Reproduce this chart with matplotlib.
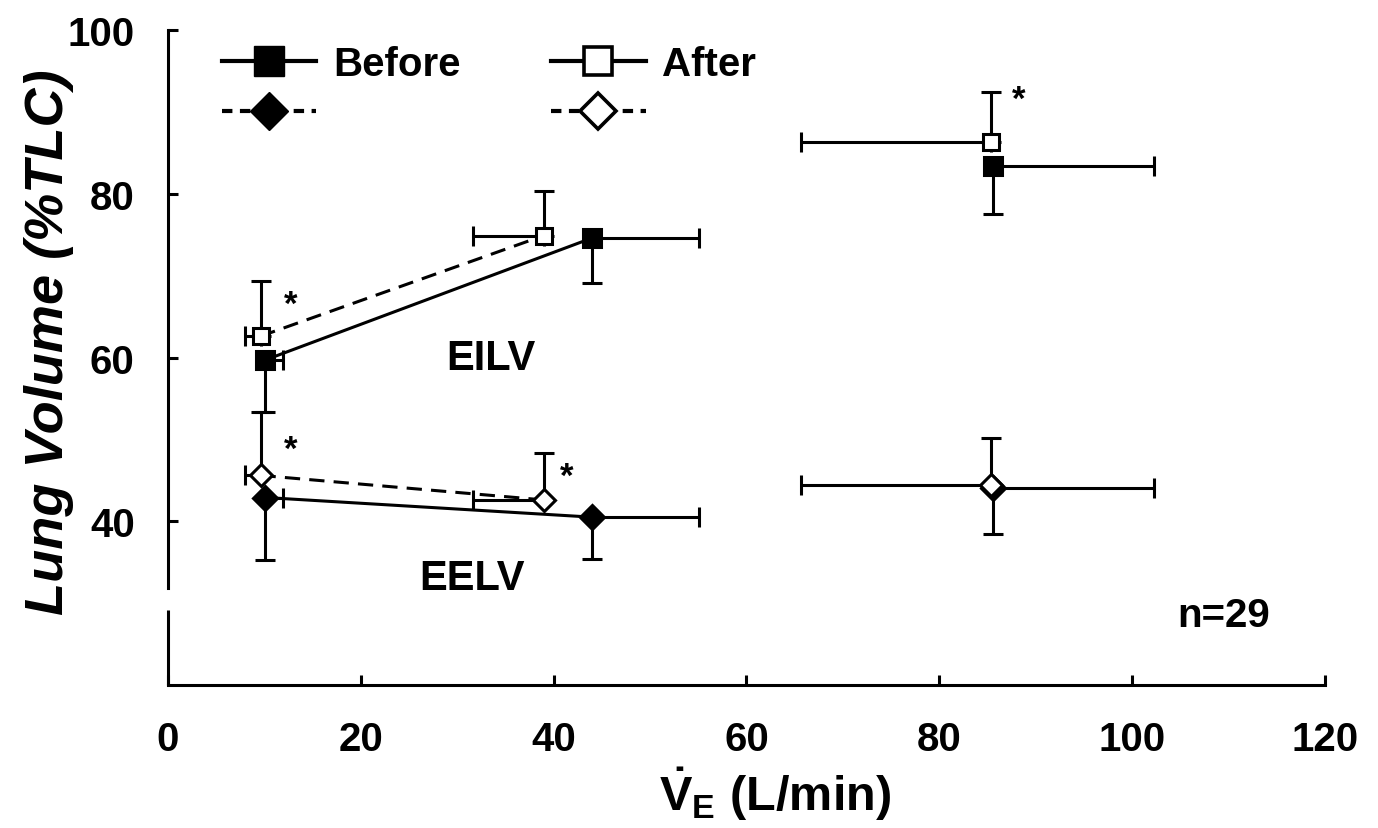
import matplotlib
matplotlib.use("Agg")
import matplotlib.pyplot as plt
from matplotlib.lines import Line2D
import numpy as np

plt.rcParams['font.family'] = ['Liberation Sans', 'DejaVu Sans']
plt.rcParams['font.weight'] = 'bold'
plt.rcParams['mathtext.fontset'] = 'custom'
plt.rcParams['mathtext.rm'] = 'Liberation Sans:bold'
plt.rcParams['mathtext.bf'] = 'Liberation Sans:bold'
plt.rcParams['mathtext.it'] = 'Liberation Sans:bold:italic'

# minute ventilation (L/min): rest, submax, peak
ve_before = np.array([10.1, 44.0, 85.6])
ve_before_sd = np.array([1.8, 11.1, 16.7])
ve_after = np.array([9.6, 39.0, 85.4])
ve_after_sd = np.array([1.6, 7.4, 19.7])

# end-inspiratory lung volume (%TLC)
eilv_before = np.array([59.7, 74.6, 83.4])
eilv_before_sd = np.array([6.4, 5.5, 5.9])
eilv_after = np.array([62.6, 74.9, 86.3])
eilv_after_sd = np.array([6.7, 5.4, 6.1])

# end-expiratory lung volume (%TLC)
eelv_before = np.array([42.9, 40.5, 44.1])
eelv_before_sd = np.array([7.6, 5.1, 5.7])
eelv_after = np.array([45.6, 42.6, 44.4])
eelv_after_sd = np.array([7.7, 5.7, 5.8])

zero = np.zeros(3)

fig = plt.figure(figsize=(13.78, 8.29), dpi=100)
ax = fig.add_axes([0.1219, 0.1725, 0.8396, 0.7901])

lw = 2.2
eb = dict(ecolor='k', elinewidth=lw, capsize=7, capthick=lw, linestyle='none', zorder=3)

# connecting lines (rest -> submax only)
ax.plot(ve_before[:2], eilv_before[:2], '-', color='k', lw=lw, zorder=2)
ax.plot(ve_after[:2], eilv_after[:2], '--', color='k', lw=lw, dashes=(5, 3), zorder=2)
ax.plot(ve_before[:2], eelv_before[:2], '-', color='k', lw=lw, zorder=2)
ax.plot(ve_after[:2], eelv_after[:2], '--', color='k', lw=lw, dashes=(5, 3), zorder=2)

# before: error down in y, right in x
ax.errorbar(ve_before, eilv_before, yerr=[eilv_before_sd, zero], xerr=[zero, ve_before_sd],
            marker='s', ms=13, mfc='k', mec='k', mew=lw, **eb)
ax.errorbar(ve_before, eelv_before, yerr=[eelv_before_sd, zero], xerr=[zero, ve_before_sd],
            marker='D', ms=12, mfc='k', mec='k', mew=lw, **eb)
# after: error up in y, left in x
ax.errorbar(ve_after, eilv_after, yerr=[zero, eilv_after_sd], xerr=[ve_after_sd, zero],
            marker='s', ms=12, mfc='w', mec='k', mew=lw, **eb)
ax.errorbar(ve_after, eelv_after, yerr=[zero, eelv_after_sd], xerr=[ve_after_sd, zero],
            marker='D', ms=11, mfc='w', mec='k', mew=lw, **eb)

ax.set_xlim(0, 120)
ax.set_ylim(20, 100)
ax.set_xticks([0, 20, 40, 60, 80, 100, 120])
ax.set_yticks([40, 60, 80, 100])
ax.tick_params(direction='in', length=7, width=lw, labelsize=29, color='k')
ax.tick_params(axis='y', pad=24)
ax.tick_params(axis='x', pad=25)
for lab in ax.get_xticklabels() + ax.get_yticklabels():
    lab.set_fontweight('bold')

ax.spines['top'].set_visible(False)
ax.spines['right'].set_visible(False)
ax.spines['bottom'].set_linewidth(lw)
ax.spines['left'].set_linewidth(lw)
ax.spines['left'].set_bounds(31.8, 100)
# lower piece of broken y axis
ax.plot([0, 0], [20, 29.1], color='k', lw=lw, clip_on=False, solid_capstyle='butt', zorder=4)

ax.set_ylabel('Lung Volume (%TLC)', fontsize=39, fontstyle='italic', fontweight='bold',
              va='center')
ax.yaxis.set_label_coords(-0.103, 0.525)
ax.set_xlabel(r'$\dot{\mathrm{V}}_{\mathrm{E}}$ (L/min)', fontsize=35, fontweight='bold',
              va='top')
ax.xaxis.set_label_coords(0.525, -0.121)

ax.text(33.5, 60.0, 'EILV', fontsize=30, ha='center', va='center')
ax.text(31.5, 33.1, 'EELV', fontsize=30, ha='center', va='center')
ax.text(109.5, 28.6, 'n=29', fontsize=29, ha='center', va='center')

stars = [(12.7, 66.5), (12.7, 48.8), (41.4, 45.5), (88.2, 91.5)]
for sx, sy in stars:
    ax.text(sx, sy, '*', fontsize=25, ha='center', va='center')

handles = [
    Line2D([], [], color='k', lw=3, marker='s', ms=21, mfc='k', mec='k'),
    Line2D([], [], color='k', lw=3, ls='--', dashes=(2.5, 1.8), marker='D', ms=19, mfc='k', mec='k'),
    Line2D([], [], color='k', lw=3, marker='s', ms=20, mfc='w', mec='k', mew=2.6),
    Line2D([], [], color='k', lw=3, ls='--', dashes=(2.5, 1.8), marker='D', ms=18, mfc='w', mec='k', mew=2.6),
]
ax.legend(handles, ['Before', ' ', 'After', ' '], ncol=2, frameon=False, fontsize=29,
          loc='upper left', bbox_to_anchor=(0.0467, 0.977), borderpad=0, borderaxespad=0,
          handlelength=2.34, columnspacing=2.25, labelspacing=0.3, handletextpad=0.42)

fig.savefig('out.png', dpi=100)
